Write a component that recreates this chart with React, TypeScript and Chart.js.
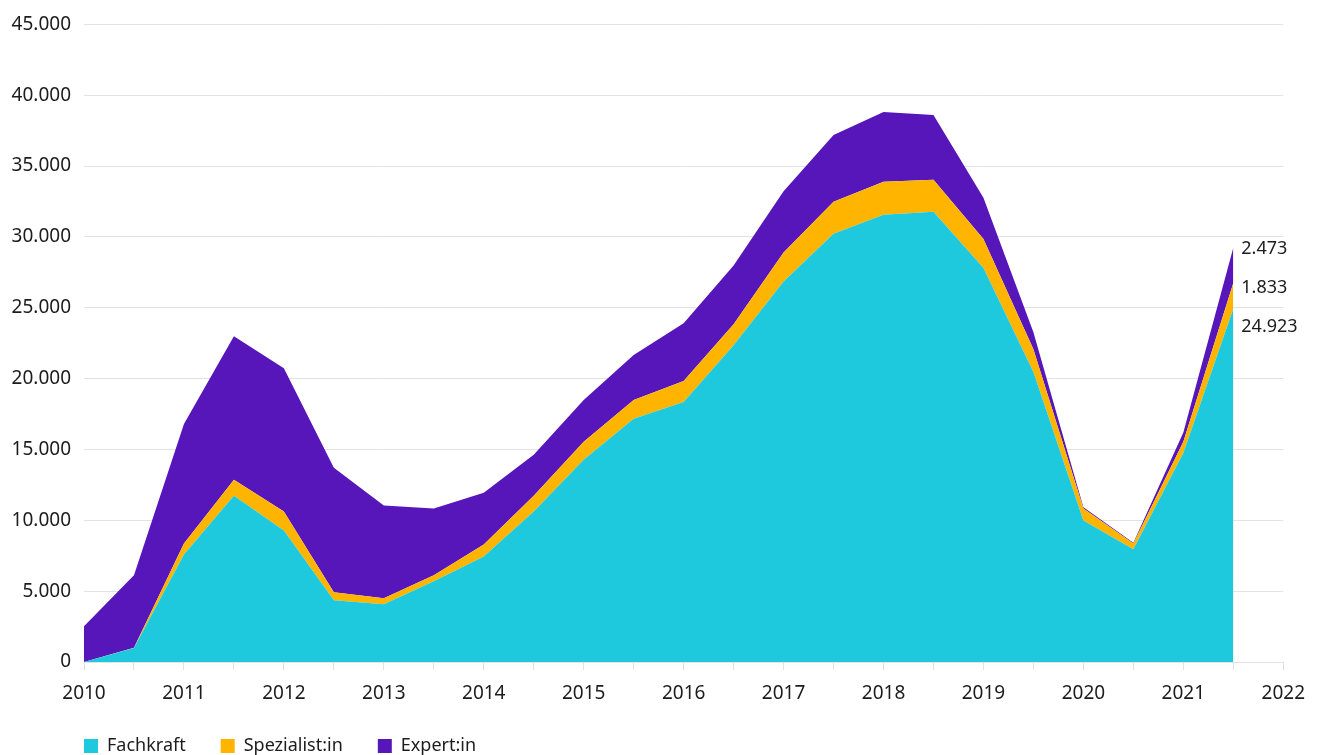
import React, { useEffect, useRef } from "react";
import { Chart, registerables } from "chart.js";

Chart.register(...registerables);

const periods = [
  2010, 2010.5, 2011, 2011.5, 2012, 2012.5, 2013, 2013.5, 2014, 2014.5, 2015, 2015.5,
  2016, 2016.5, 2017, 2017.5, 2018, 2018.5, 2019, 2019.5, 2020, 2020.5, 2021, 2021.5,
];

const fachkraft = [
  0, 980, 7590, 11740, 9280, 4360, 4080, 5700, 7450, 10620, 14270, 17160,
  18350, 22360, 26850, 30230, 31570, 31780, 27800, 20460, 9980, 7950, 14750, 24923,
];

const spezialist = [
  0, 20, 780, 1130, 1340, 560, 420, 420, 850, 1120, 1270, 1330,
  1480, 1480, 2050, 2250, 2320, 2250, 2050, 1620, 850, 420, 790, 1833,
];

const expert = [
  2530, 5120, 8430, 10120, 10120, 8790, 6540, 4710, 3650, 2880, 2950, 3170,
  4070, 4150, 4320, 4720, 4920, 4570, 2920, 1190, 90, 40, 660, 2473,
];

const seriesNames = ["Fachkraft", "Spezialist:in", "Expert:in"];
const seriesColors = ["#1FC9DD", "#FFB400", "#5616BA"];

const yTicks = [0, 5000, 10000, 15000, 20000, 25000, 30000, 35000, 40000, 45000];

const FONT = "'Noto Sans', sans-serif";
const TEXT = "#1c1c1c";
const GRID = "#e2e2e2";
const LEGEND_PAD = 35;

function fmt(n: number): string {
  return String(Math.round(n)).replace(/\B(?=(\d{3})+(?!\d))/g, ".");
}

const endLabelsPlugin = {
  id: "endLabels",
  afterLayout(chart: any) {
    if (chart.legend) {
      chart.legend.left = chart.chartArea.left - LEGEND_PAD;
    }
  },
  afterDatasetsDraw(chart: any) {
    const ctx = chart.ctx;
    const n = chart.data.datasets.length;
    const items: { x: number; y: number; text: string }[] = [];
    for (let i = n - 1; i >= 0; i--) {
      const meta = chart.getDatasetMeta(i);
      const pts = meta.data;
      const last = pts[pts.length - 1];
      const ds = chart.data.datasets[i];
      const v = (ds.data[ds.data.length - 1] as any).y;
      items.push({ x: last.x, y: last.y, text: fmt(v) });
    }
    ctx.save();
    ctx.font = `18px ${FONT}`;
    ctx.fillStyle = TEXT;
    ctx.textAlign = "left";
    ctx.textBaseline = "middle";
    let prev = -Infinity;
    items.forEach((it, idx) => {
      let y = it.y + 1;
      if (idx > 0) y = Math.max(y, prev + 39);
      prev = y;
      ctx.fillText(it.text, it.x + 8, y);
    });
    ctx.restore();
  },
};

export default function App() {
  const canvasRef = useRef<HTMLCanvasElement | null>(null);

  useEffect(() => {
    document.body.style.margin = "0";
    const canvas = canvasRef.current;
    if (!canvas) return;
    const series = [fachkraft, spezialist, expert];
    const chart = new Chart(canvas, {
      type: "line",
      data: {
        datasets: series.map((vals, i) => ({
          label: seriesNames[i],
          data: periods.map((p, j) => ({ x: p, y: vals[j] })),
          backgroundColor: seriesColors[i],
          borderColor: seriesColors[i],
          borderWidth: 0,
          pointRadius: 0,
          pointHoverRadius: 0,
          tension: 0,
          fill: i === 0 ? "origin" : "-1",
        })),
      },
      options: {
        animation: false,
        responsive: true,
        maintainAspectRatio: false,
        layout: { padding: { top: 21, right: 30, left: 0, bottom: 0 } },
        plugins: {
          legend: {
            position: "bottom",
            align: "start",
            labels: {
              boxWidth: 14,
              boxHeight: 14,
              padding: LEGEND_PAD,
              color: TEXT,
              font: { family: FONT, size: 18 },
            },
          },
          tooltip: { enabled: false },
        },
        scales: {
          x: {
            type: "linear",
            min: 2010,
            max: 2022,
            afterFit(scale: any) {
              scale.height = 40;
            },
            afterBuildTicks(scale: any) {
              scale.ticks = periods.concat([2022]).map((v) => ({ value: v }));
            },
            ticks: {
              autoSkip: false,
              maxRotation: 0,
              padding: 12,
              color: TEXT,
              font: { family: FONT, size: 19 },
              callback: (v: any) => (Number(v) % 1 === 0 ? String(v) : ""),
            },
            grid: {
              drawOnChartArea: false,
              drawTicks: true,
              tickLength: 8,
              color: GRID,
            },
            border: { display: true, color: GRID },
          },
          y: {
            stacked: true,
            min: 0,
            max: 45000,
            afterFit(scale: any) {
              scale.width = 84;
            },
            afterBuildTicks(scale: any) {
              scale.ticks = yTicks.map((v) => ({ value: v }));
            },
            ticks: {
              padding: 13,
              color: TEXT,
              font: { family: FONT, size: 19 },
              callback: (v: any) => fmt(Number(v)),
            },
            grid: { color: GRID, drawTicks: false },
            border: { display: false },
          },
        },
      },
      plugins: [endLabelsPlugin],
    } as any);
    return () => chart.destroy();
  }, []);

  return (
    <div style={{ position: "fixed", left: 0, top: 0, width: 1317, height: 755, overflow: "hidden", background: "#fff" }}>
      <div style={{ position: "relative", width: 1317, height: 765 }}>
        <canvas ref={canvasRef} />
      </div>
    </div>
  );
}
